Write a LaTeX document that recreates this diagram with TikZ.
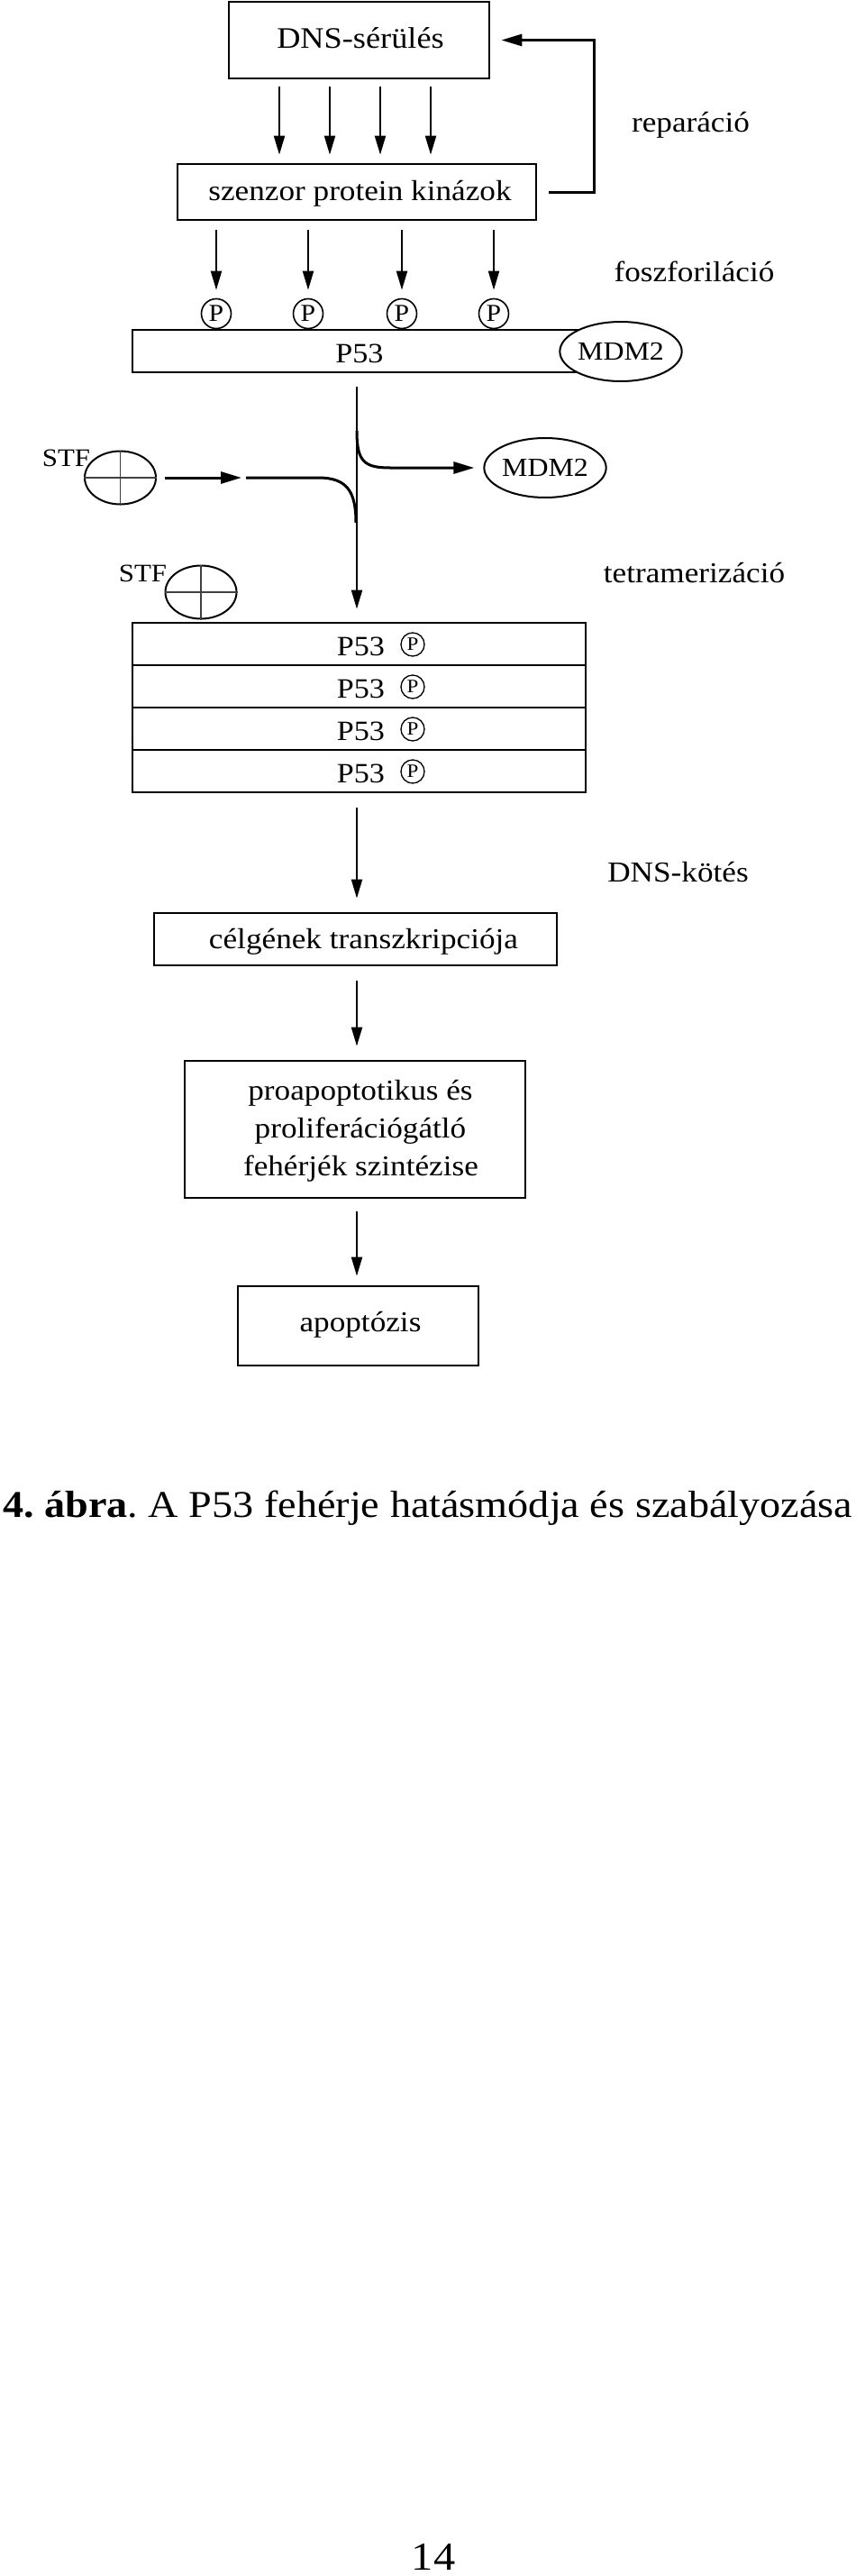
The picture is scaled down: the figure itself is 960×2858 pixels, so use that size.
\documentclass[tikz,border=0pt]{standalone}
\usepackage{fontspec}
\setmainfont{Liberation Serif}[FakeStretch=1.1]
\usetikzlibrary{arrows.meta,shapes.geometric,calc}
\frenchspacing
\begin{document}
\begin{tikzpicture}[x=1pt,y=-1pt,
  box/.style={draw, line width=2.7pt, rectangle, inner sep=0pt},
  lbl/.style={inner sep=0pt, anchor=base, font=\fontsize{32}{42}\selectfont},
  arr/.style={line width=2pt, -{Triangle[length=21pt,width=12pt]}},
  bigarr/.style={line width=3pt, -{Triangle[length=23pt,width=13pt]}},
  pcirc/.style={draw, circle, line width=1.6pt, minimum size=33pt, inner sep=0pt, font=\fontsize{27}{27}\selectfont},
  pcircs/.style={draw, circle, line width=1.3pt, minimum size=26pt, inner sep=0pt, font=\fontsize{21}{21}\selectfont},
  mdm/.style={draw, ellipse, line width=2pt, fill=white, minimum width=112pt, minimum height=66pt, inner sep=0pt, font=\fontsize{29}{29}\selectfont},
  stf/.style={draw, ellipse, line width=2pt, minimum width=79pt, minimum height=59pt, inner sep=0pt},
  cross/.style={line width=1.4pt, black!75}
]
\useasboundingbox (0,0) rectangle (960,2858);
\fill[white] (0,0) rectangle (960,2858);

% boxes
\node[box, minimum width=289pt, minimum height=85pt] (dns) at (398.5,44.5) {};
\node[lbl, font=\fontsize{33}{40}\selectfont] (dnsl) at (400,54) {DNS-sérülés};
\node[box, minimum width=398pt, minimum height=62pt] (szen) at (396,213) {};
\node[lbl] (szenl) at (399.5,222.7) {szenzor protein kinázok};

% side labels
\node[lbl] (rep) at (766.5,147) {reparáció};
\node[lbl] (fosz) at (770.5,312) {foszforiláció};
\node[lbl] (tetra) at (770.5,646) {tetramerizáció};
\node[lbl] (dnsk) at (752.5,978) {DNS-kötés};

% x positions
\coordinate (a1) at (310,0);
\coordinate (a2) at (366,0);
\coordinate (a3) at (422,0);
\coordinate (a4) at (478,0);
\coordinate (mx) at (396,0);

\foreach \c in {a1,a2,a3,a4}
  \draw[arr, shorten <=8pt, shorten >=9pt] (dns.south -| \c) -- (szen.north -| \c);

% repair loop
\draw[bigarr, shorten >=12pt] ([xshift=13pt,yshift=-1pt]szen.east) -- ++(50,0) |- (dns.east);

% P53 bar with phosphates
\node[box, minimum width=503pt, minimum height=47pt] (bar) at (398.5,389.5) {};
\node[lbl, font=\fontsize{31}{31}\selectfont] (barl) at (399,402) {P53};
\node[mdm] (mdmA) at (689,390) {MDM2};
\node[pcirc] (p1) at (240,348) {P};
\node[pcirc] (p2) at (342,348) {P};
\node[pcirc] (p3) at (446,348) {P};
\node[pcirc] (p4) at (548,348) {P};
\foreach \p in {p1,p2,p3,p4}
  \draw[arr, shorten <=10pt, shorten >=9pt] (szen.south -| \p) -- (\p.north);

% tetramer stack
\node[box, minimum width=503pt, minimum height=47pt] (r1) at (398.5,714.5) {};
\node[box, minimum width=503pt, minimum height=47pt] (r2) at (398.5,761.5) {};
\node[box, minimum width=503pt, minimum height=47pt] (r3) at (398.5,808.5) {};
\node[box, minimum width=503pt, minimum height=47pt] (r4) at (398.5,855.5) {};
\foreach \r/\y in {1/714.5,2/761.5,3/808.5,4/855.5}{
  \node[lbl, font=\fontsize{31}{31}\selectfont] (t\r) at (400.5,\y+12.5) {P53};
  \node[pcircs] (q\r) at (458,\y+0.5) {P};
}

% main vertical
\draw[arr, shorten <=15pt, shorten >=14pt] (bar.south -| mx) -- (r1.north -| mx);

% MDM2 release branch
\node[mdm] (mdmB) at (605,519) {MDM2};
\coordinate (br) at (396,478);
\draw[bigarr, shorten >=10pt] (br) .. controls (396,512) and (404,519) .. (433,519) -- (mdmB.west);

% STF 1
\node[stf] (stfA) at (133.5,530) {};
\draw[cross] (stfA.north) -- (stfA.south) (stfA.west) -- (stfA.east);
\node[lbl, font=\fontsize{28}{28}\selectfont] (stfAl) at (73.5,517) {STF};
\coordinate (sa) at (268,530);
\coordinate (sb) at (273,530);
\coordinate (jn) at (395,580);
\draw[bigarr, shorten <=8.5pt] (stfA.east) -- (sa);
\draw[line width=3pt] (sb) -- (353,530) .. controls (385,530) and (395,545) .. (jn);

% STF 2
\node[stf] (stfB) at (223,657) {};
\draw[cross] (stfB.north) -- (stfB.south) (stfB.west) -- (stfB.east);
\node[lbl, font=\fontsize{28}{28}\selectfont] (stfBl) at (158.5,645) {STF};

% lower chain
\node[box, minimum width=447pt, minimum height=58pt] (cel) at (394.5,1042) {};
\node[lbl] (cell) at (403.5,1052) {célgének transzkripciója};
\node[box, minimum width=378pt, minimum height=152pt] (pro) at (394,1253) {};
\node[lbl] (pro1) at (400,1220) {proapoptotikus és};
\node[lbl] (pro2) at (400,1262) {proliferációgátló};
\node[lbl] (pro3) at (400.5,1304) {fehérjék szintézise};
\node[box, minimum width=267pt, minimum height=88pt] (apo) at (397.5,1471) {};
\node[lbl] (apol) at (400,1477.7) {apoptózis};

\draw[arr, shorten <=16pt, shorten >=15pt] (r4.south -| mx) -- (cel.north -| mx);
\draw[arr, shorten <=16pt, shorten >=15pt] (cel.south -| mx) -- (pro.north -| mx);
\draw[arr, shorten <=14pt, shorten >=10pt] (pro.south -| mx) -- (apo.north -| mx);

% caption and page number
\node[inner sep=0pt, anchor=base west, font=\fontsize{42}{42}\selectfont] (cap) at (3,1683)
  {\textbf{4. ábra}. A P53 fehérje hatásmódja és szabályozása};
\node[inner sep=0pt, anchor=base, font=\fontsize{44}{44}\selectfont] (pg) at (481,2851) {14};
\end{tikzpicture}
\end{document}
